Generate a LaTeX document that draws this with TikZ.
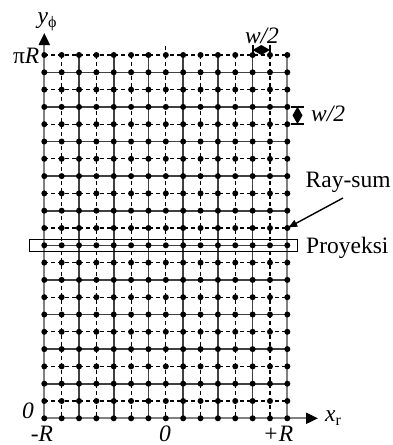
\documentclass[tikz,border=0pt]{standalone}
\usepackage{fontspec}
\setmainfont{Liberation Serif}
\usetikzlibrary{arrows.meta}
\begin{document}
\begin{tikzpicture}[x=1pt,y=-1pt,
  lbl/.style={inner sep=0pt,font=\fontsize{23.5}{26}\selectfont},
  solidln/.style={draw=black!75,line width=1.6pt},
  edgeln/.style={draw=black!50,line width=2pt},
  dashln/.style={draw=black,line width=1.1pt,dash pattern=on 4pt off 3pt},
  dotmark/.style={fill=black},
  axisarrow/.style={draw=black!50,line width=2pt,-{Triangle[length=12pt,width=11pt,color=black]}},
  box/.style={draw=black,line width=1.5pt}]
\useasboundingbox (0,0) rectangle (392,445);
\def\xa{44.3}\def\dx{17.36}\def\ya{55}\def\dy{17.3}
% horizontal lines
\foreach \j in {0,...,21}{
  \pgfmathsetmacro{\yy}{\ya+\dy*\j}
  \ifodd\j
    \draw[solidln] (\xa,\yy) -- ({\xa+14*\dx},\yy);
  \else
    \draw[dashln] (\xa,\yy) -- ({\xa+14*\dx},\yy);
  \fi
}
% vertical lines
\foreach \i in {1,...,13}{
  \pgfmathsetmacro{\xx}{\xa+\dx*\i}
  \ifodd\i
    \draw[dashln] (\xx,\ya) -- (\xx,{\ya+21*\dy});
  \else
    \draw[solidln] (\xx,\ya) -- (\xx,{\ya+21*\dy});
  \fi
}
\draw[dashln] ({\xa+7*\dx},46) -- ({\xa+7*\dx},\ya);
\draw[edgeln] ({\xa+14*\dx},\ya) -- ({\xa+14*\dx},{\ya+21*\dy});
% axes
\coordinate (O) at (\xa,{\ya+21*\dy});
\coordinate (ytip) at (\xa,33);
\coordinate (xtip) at (318,{\ya+21*\dy});
\draw[axisarrow] (O) -- (ytip);
\draw[axisarrow] (O) -- (xtip);
% dots
\foreach \i in {0,...,14}{
  \foreach \j in {0,...,21}{
    \fill[dotmark] ({\xa+\dx*\i},{\ya+\dy*\j}) circle (3pt);
  }
}
% projection box
\draw[box] (29.3,239.3) rectangle (297.7,251.7);
% labels
\node[lbl,anchor=base] (ylab) at (47,23) {\textit{y}\raisebox{-0.2em}{\fontsize{16}{17}\selectfont ϕ}};
\node[lbl,anchor=base east] (piR) at (39.5,63) {π\textit{R}};
\node[lbl,anchor=base] (zl) at (28,418) {\textit{0}};
\node[lbl,anchor=base] (mR) at (42,441) {\textit{-R}};
\node[lbl,anchor=base] (zb) at (165,441) {\textit{0}};
\node[lbl,anchor=base] (pR) at (278,441) {\textit{+R}};
\node[lbl,anchor=base west] (xlab) at (325,421) {\textit{x}\raisebox{-0.2em}{\fontsize{16}{17}\selectfont r}};
\node[lbl,anchor=base] (w1) at (262,43) {\textit{w/2}};
\node[lbl,anchor=base west] (w2) at (311,121) {\textit{w/2}};
\node[lbl,anchor=base west] (ray) at (305.5,187) {Ray-sum};
\node[lbl,anchor=base west] (proy) at (306,253) {Proyeksi};
% ray-sum arrow
\coordinate (rs) at ({\xa+14*\dx},{\ya+10*\dy});
\coordinate (rsstart) at (343,198);
\draw[line width=1.4pt,-{Latex[length=10pt,width=8pt]}] (rsstart) -- (rs);
% w/2 markers
\draw[line width=1.8pt] (252.6,44.5) -- (252.6,55.5) (270,44.5) -- (270,55.5);
\fill (252.6,50) -- (261.3,45) -- (270,50) -- (261.3,55) -- cycle;
\draw[line width=1.8pt] (291,106.7) -- (304,106.7) (291,124) -- (304,124);
\fill (297.5,106.7) -- (302.5,115.35) -- (297.5,124) -- (292.5,115.35) -- cycle;
\end{tikzpicture}
\end{document}
